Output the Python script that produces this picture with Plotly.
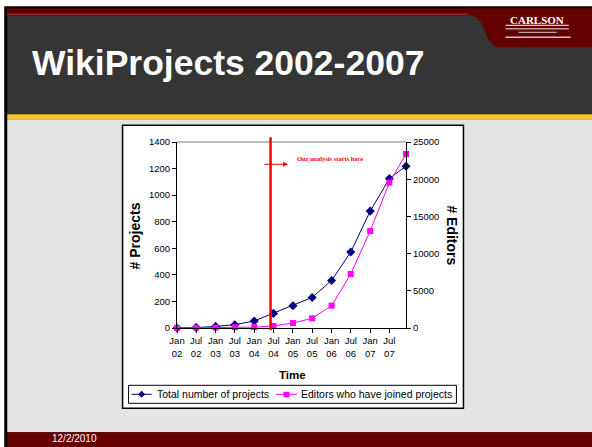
import plotly.graph_objects as go

# ---------------- data ----------------
dates = ["2002-01-01", "2002-07-01", "2003-01-01", "2003-07-01", "2004-01-01",
         "2004-07-01", "2005-01-01", "2005-07-01", "2006-01-01", "2006-07-01",
         "2007-01-01", "2007-07-01", "2007-12-05"]
tick_labels = ["Jan<br>02", "Jul<br>02", "Jan<br>03", "Jul<br>03", "Jan<br>04", "Jul<br>04",
               "Jan<br>05", "Jul<br>05", "Jan<br>06", "Jul<br>06", "Jan<br>07", "Jul<br>07"]
projects = [0, 3, 12, 25, 53, 110, 168, 230, 358, 572, 880, 1125, 1218]
editors = [0, 40, 60, 100, 120, 280, 670, 1300, 3000, 7260, 13040, 19530, 23390]
series_names = ["Total number of projects", "Editors who have joined projects"]
series_colors = ["#000080", "#ff00ff"]
analysis_start = "2004-06-03"

FONT = "Arial, Liberation Sans, sans-serif"

# plot-area pixel geometry
PL, PR, PT, PB = 177.3, 405.7, 141.7, 327.7
PW, PH = PR - PL, PB - PT


def fx(px):
    return (px - PL) / PW


def fy(py):
    return (PB - py) / PH


def rect(x0, y0, x1, y1, fill, line=None, lw=0, layer="below"):
    return dict(type="rect", xref="paper", yref="paper", x0=fx(x0), x1=fx(x1),
                y0=fy(y1), y1=fy(y0), fillcolor=fill,
                line=dict(color=line or fill, width=lw), layer=layer)


def hline(x0, x1, y, color, width, layer="below"):
    return dict(type="line", xref="paper", yref="paper", layer=layer,
                x0=fx(x0), x1=fx(x1), y0=fy(y), y1=fy(y), line=dict(color=color, width=width))


fig = go.Figure()
fig.add_trace(go.Scatter(
    x=dates, y=projects, name=series_names[0], mode="lines+markers",
    line=dict(color=series_colors[0], width=1),
    marker=dict(symbol="diamond", size=7, color=series_colors[0]), cliponaxis=False))
fig.add_trace(go.Scatter(
    x=dates, y=editors, name=series_names[1], mode="lines+markers",
    yaxis="y2", line=dict(color=series_colors[1], width=1),
    marker=dict(symbol="square", size=6, color=series_colors[1]), cliponaxis=False))

shapes = [
    rect(5, 6, 592, 447, "#000000"),
    rect(8, 9, 592, 114, "#353535"),
    dict(type="path", xref="paper", yref="paper", layer="below",
         path=("M {a},{b} L {c},{b} L {c},{d} L {e},{d} Q {f},{g} {h},{i} Q {j},{k} {l},{k} L {a},{k} Z"
               .format(a=fx(8), b=fy(8), c=fx(592), d=fy(47), e=fx(497),
                       f=fx(489), g=fy(45), h=fx(484), i=fy(30), j=fx(479), k=fy(15), l=fx(468))),
         fillcolor="#650000", line=dict(width=0)),
    hline(8, 467, 14, "#8a2b2b", 1.5),
    rect(8, 114, 592, 119, "#f9c233"),
    rect(8, 119, 592, 432, "#e4e4e4"),
    rect(8, 432, 592, 447, "#660000"),
    rect(123, 125, 463, 408, "#ffffff", "#000000", 1.5),
    dict(type="line", xref="paper", yref="paper", layer="below",
         x0=0, x1=1, y0=1, y1=1, line=dict(color="#808080", width=1)),
    # logo rules
    hline(505, 568, 25, "#ffffff", 1),
    hline(505, 568, 28.5, "rgba(255,255,255,0.6)", 1.5),
    hline(518, 556, 32, "#ffffff", 0.8),
    hline(505, 570, 37, "rgba(255,255,255,0.75)", 1.5),
    # analysis start line
    dict(type="line", xref="x", yref="paper", layer="above",
         x0=analysis_start, x1=analysis_start, y0=fy(330), y1=fy(137),
         line=dict(color="#ff0000", width=2.5)),
    # legend box
    rect(129, 385, 456, 403, "#ffffff", "#000000", 1, layer="above"),
    hline(132, 152, 394, series_colors[0], 1, layer="above"),
    hline(276, 297, 394, series_colors[1], 1, layer="above"),
    dict(type="path", xref="paper", yref="paper", layer="above",
         path="M {},{} L {},{} L {},{} L {},{} Z".format(fx(142), fy(390.5), fx(145.5), fy(394),
                                                        fx(142), fy(397.5), fx(138.5), fy(394)),
         fillcolor=series_colors[0], line=dict(width=0)),
    rect(283.5, 391.5, 289.5, 397, series_colors[1], layer="above"),
]

annotations = [
    dict(text="<b>WikiProjects 2002-2007</b>", xref="paper", yref="paper", x=fx(31), y=fy(63),
         xanchor="left", yanchor="middle", showarrow=False,
         font=dict(family=FONT, size=35.5, color="#ffffff")),
    dict(text="<b>CARLSON</b>", xref="paper", yref="paper", x=fx(536), y=fy(19.5),
         xanchor="center", yanchor="middle", showarrow=False,
         font=dict(family="Liberation Serif, Times New Roman, serif", size=11, color="#ffffff")),
    dict(text="12/2/2010", xref="paper", yref="paper", x=fx(51), y=fy(438),
         xanchor="left", yanchor="middle", showarrow=False,
         font=dict(family=FONT, size=10, color="#ffffff")),
    dict(text="<b># Projects</b>", xref="paper", yref="paper", x=fx(135), y=fy(235.5),
         xanchor="center", yanchor="middle", textangle=-90, showarrow=False,
         font=dict(family=FONT, size=14, color="#000000")),
    dict(text="<b># Editors</b>", xref="paper", yref="paper", x=fx(452), y=fy(235.5),
         xanchor="center", yanchor="middle", textangle=90, showarrow=False,
         font=dict(family=FONT, size=14, color="#000000")),
    dict(text="<b>Time</b>", xref="paper", yref="paper", x=fx(292), y=fy(375),
         xanchor="center", yanchor="middle", showarrow=False,
         font=dict(family=FONT, size=11.5, color="#000000")),
    dict(text="", xref="paper", yref="paper", x=fx(288), y=fy(164), ax=-25, ay=0,
         showarrow=True, arrowhead=2, arrowsize=1, arrowwidth=1, arrowcolor="#ff0000"),
    dict(text="<b>Our analysis starts here</b>", xref="paper", yref="paper", x=fx(295), y=fy(158),
         xanchor="left", yanchor="middle", showarrow=False,
         font=dict(family="Liberation Serif, Times New Roman, serif", size=6.5, color="#ff0000")),
    dict(text=series_names[0], xref="paper", yref="paper", x=fx(155), y=fy(394),
         xanchor="left", yanchor="middle", showarrow=False,
         font=dict(family=FONT, size=10.5, color="#000000")),
    dict(text=series_names[1], xref="paper", yref="paper", x=fx(299), y=fy(394),
         xanchor="left", yanchor="middle", showarrow=False,
         font=dict(family=FONT, size=10.5, color="#000000")),
]

fig.update_layout(
    width=592, height=447,
    margin=dict(l=PL, r=592 - PR, t=PT, b=447 - PB, pad=0),
    paper_bgcolor="#ffffff", plot_bgcolor="rgba(0,0,0,0)",
    font=dict(family=FONT, size=9.5, color="#000000"),
    shapes=shapes, annotations=annotations,
    showlegend=False,
    xaxis=dict(type="date", range=[dates[0], dates[-1]], tickvals=dates[:12], ticktext=tick_labels,
               ticks="outside", ticklen=4, tickcolor="#000000", showline=True, linecolor="#000000",
               linewidth=1, showgrid=False, zeroline=False, tickfont=dict(size=9.5)),
    yaxis=dict(range=[0, 1400], dtick=200, ticks="outside", ticklen=4, tickcolor="#000000",
               showline=True, linecolor="#000000", linewidth=1, showgrid=False, zeroline=False,
               tickfont=dict(size=9.5)),
    yaxis2=dict(range=[0, 25000], dtick=5000, tickformat="d", overlaying="y", side="right",
                ticks="outside", ticklen=4, tickcolor="#000000", showline=True,
                linecolor="#000000", linewidth=1, showgrid=False, zeroline=False,
                tickfont=dict(size=9.5)),
)

fig.write_html("out.html", config={"displayModeBar": False},
               post_script="document.body.style.margin='0';document.body.style.padding='0';")
